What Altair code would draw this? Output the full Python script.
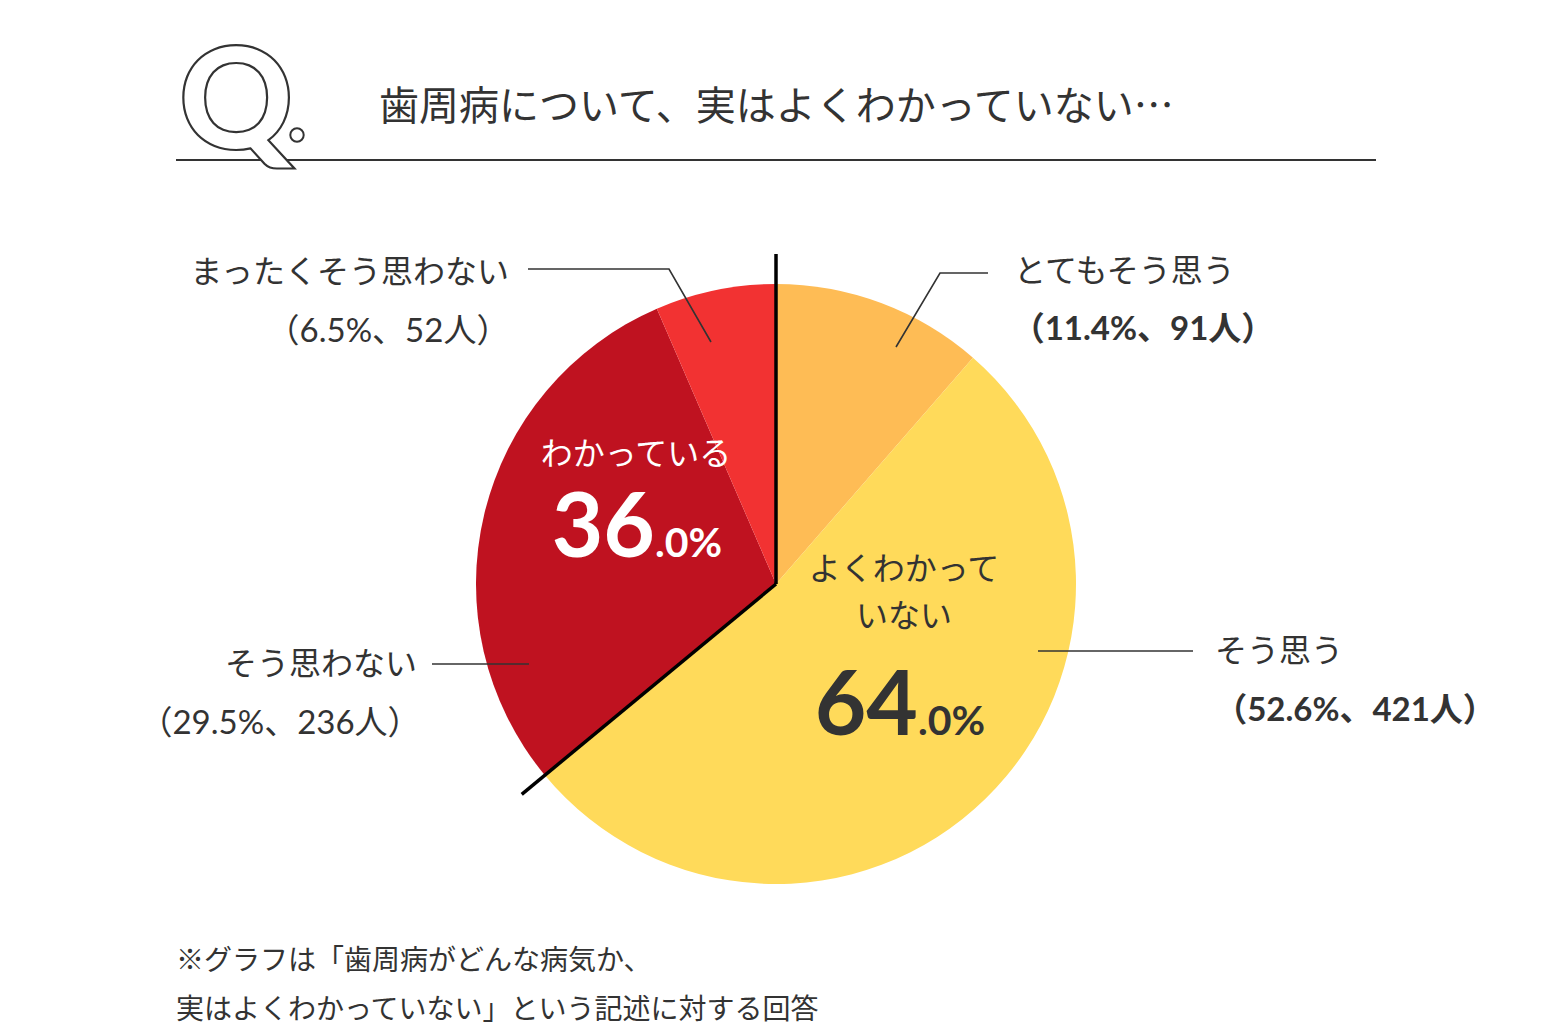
import math
import altair as alt
import pandas as pd

# ---------------- data ----------------
categories = ["とてもそう思う", "そう思う", "そう思わない", "まったくそう思わない"]
percents = [11.4, 52.6, 29.5, 6.5]
counts = [91, 421, 236, 52]
groups = ["よくわかっていない", "よくわかっていない", "わかっている", "わかっている"]
colors = ["#FEBC55", "#FFDA5A", "#BF1220", "#F23232"]
title_text = "歯周病について、実はよくわかっていない…"
note_lines = ["※グラフは「歯周病がどんな病気か、", "実はよくわかっていない」という記述に対する回答"]

# ---------------- layout (pixels in view) ----------------
CX, CY, R, RLINE = 768, 576, 300, 330
JP = "Noto Sans CJK JP"
NUM = "Lato, 'Noto Sans CJK JP'"
DARK = "#333333"

name_pos = {  # x, y, align
    "とてもそう思う": (1006, 264, "left"),
    "そう思う": (1207, 644, "left"),
    "そう思わない": (409, 657, "right"),
    "まったくそう思わない": (501, 265, "right"),
}
sub_pos = {  # x, y, bold
    "とてもそう思う": (1135, 322, True),
    "そう思う": (1347, 703, True),
    "そう思わない": (272, 716, False),
    "まったくそう思わない": (380, 324, False),
}
leader_pts = {
    "とてもそう思う": [(980, 265), (932, 265), (888, 339)],
    "そう思う": [(1030, 643), (1185, 643)],
    "そう思わない": [(424, 656), (521, 656)],
    "まったくそう思わない": [(520, 261), (661, 261), (703, 334)],
}

W, H = 1536, 1018

pie_df = pd.DataFrame({
    "cat": categories, "value": percents, "order": list(range(len(categories))),
})

pie = alt.Chart(pie_df).mark_arc(outerRadius=R).encode(
    theta=alt.Theta("value:Q", stack=True),
    order=alt.Order("order:Q"),
    color=alt.Color("cat:N", scale=alt.Scale(domain=categories, range=colors), legend=None),
    x=alt.value(CX), y=alt.value(CY),
)

# separator lines at group boundaries
total = sum(percents)
bounds = [0.0]
acc = 0.0
for i in range(len(categories) - 1):
    acc += percents[i]
    if groups[i] != groups[i + 1]:
        bounds.append(acc / total)
sep_df = pd.DataFrame({
    "x": [CX] * len(bounds), "y": [CY] * len(bounds),
    "x2": [CX + RLINE * math.sin(2 * math.pi * b) for b in bounds],
    "y2": [CY - RLINE * math.cos(2 * math.pi * b) for b in bounds],
})
sep = alt.Chart(sep_df).mark_rule(color="#000000", strokeWidth=3.5).encode(
    x=alt.X("x:Q", scale=None), y=alt.Y("y:Q", scale=None),
    x2="x2:Q", y2="y2:Q",
)

# leader lines
lrows = []
for c in categories:
    for k, (px, py) in enumerate(leader_pts[c]):
        lrows.append({"cat": c, "k": k, "x": px, "y": py})
leader = alt.Chart(pd.DataFrame(lrows)).mark_line(color=DARK, strokeWidth=1.6).encode(
    x=alt.X("x:Q", scale=None), y=alt.Y("y:Q", scale=None),
    detail="cat:N", order="k:Q",
)

# category names
nrows = [{"t": c, "x": name_pos[c][0], "y": name_pos[c][1], "a": name_pos[c][2]} for c in categories]
ndf = pd.DataFrame(nrows)
names_l = alt.Chart(ndf[ndf.a == "left"]).mark_text(
    font=JP, fontSize=32, color=DARK, align="left", baseline="middle", fontWeight=400
).encode(x=alt.X("x:Q", scale=None), y=alt.Y("y:Q", scale=None), text="t:N")
names_r = alt.Chart(ndf[ndf.a == "right"]).mark_text(
    font=JP, fontSize=32, color=DARK, align="right", baseline="middle", fontWeight=400
).encode(x=alt.X("x:Q", scale=None), y=alt.Y("y:Q", scale=None), text="t:N")

# sub labels
srows = []
for c, p, n in zip(categories, percents, counts):
    x, y, b = sub_pos[c]
    srows.append({"t": f"（{p}%、{n}人）", "x": x, "y": y, "b": b})
sdf = pd.DataFrame(srows)
subs_b = alt.Chart(sdf[sdf.b]).mark_text(
    font=NUM, fontSize=33, color=DARK, align="center", baseline="middle", fontWeight="bold"
).encode(x=alt.X("x:Q", scale=None), y=alt.Y("y:Q", scale=None), text="t:N")
subs_n = alt.Chart(sdf[~sdf.b]).mark_text(
    font=NUM, fontSize=33, color=DARK, align="center", baseline="middle", fontWeight=400
).encode(x=alt.X("x:Q", scale=None), y=alt.Y("y:Q", scale=None), text="t:N")

# group totals
g_known = sum(p for p, g in zip(percents, groups) if g == "わかっている")
g_unknown = sum(p for p, g in zip(percents, groups) if g == "よくわかっていない")


def big_number(val, x, y, color):
    whole = f"{val:.1f}".split(".")[0]
    frac = "." + f"{val:.1f}".split(".")[1] + "%"
    d = pd.DataFrame({"w": [whole], "f": [frac], "x": [x], "y": [y]})
    a = alt.Chart(d).mark_text(font="Lato", fontSize=89, fontWeight="bold", color=color,
                               align="right", baseline="alphabetic").encode(
        x=alt.X("x:Q", scale=None), y=alt.Y("y:Q", scale=None), text="w:N")
    b = alt.Chart(d).mark_text(font="Lato", fontSize=41, fontWeight="bold", color=color,
                               align="left", baseline="alphabetic").encode(
        x=alt.X("x:Q", scale=None), y=alt.Y("y:Q", scale=None), text="f:N")
    return a + b


known_lbl = alt.Chart(pd.DataFrame({"t": ["わかっている"], "x": [628], "y": [447]})).mark_text(
    font=JP, fontSize=32, color="#FFFFFF", align="center", baseline="middle", fontWeight=400
).encode(x=alt.X("x:Q", scale=None), y=alt.Y("y:Q", scale=None), text="t:N")
unk_lbl = alt.Chart(pd.DataFrame({"t": ["よくわかって", "いない"], "x": [896, 896], "y": [562, 609]})).mark_text(
    font=JP, fontSize=32, color=DARK, align="center", baseline="middle", fontWeight=400
).encode(x=alt.X("x:Q", scale=None), y=alt.Y("y:Q", scale=None), text="t:N")

known_num = big_number(g_known, 647, 549, "#FFFFFF")
unk_num = big_number(g_unknown, 910, 727, DARK)

# header
hline = alt.Chart(pd.DataFrame({"x": [168], "x2": [1368], "y": [152]})).mark_rule(
    color=DARK, strokeWidth=2).encode(
    x=alt.X("x:Q", scale=None), x2="x2:Q", y=alt.Y("y:Q", scale=None))
qmark = alt.Chart(pd.DataFrame({"t": ["Q"], "x": [228], "y": [141]})).mark_text(
    font="Lato", fontSize=142, fontWeight=900, fill="#FFFFFF", stroke=DARK, strokeWidth=2.2,
    align="center", baseline="alphabetic").encode(
    x=alt.X("x:Q", scale=None), y=alt.Y("y:Q", scale=None), text="t:N")
qdot = alt.Chart(pd.DataFrame({"x": [289], "y": [127]})).mark_point(
    shape="circle", size=180, filled=False, stroke=DARK, strokeWidth=2, opacity=1).encode(
    x=alt.X("x:Q", scale=None), y=alt.Y("y:Q", scale=None))
title = alt.Chart(pd.DataFrame({"t": [title_text], "x": [371], "y": [100]})).mark_text(
    font=JP, fontSize=40, color=DARK, align="left", baseline="middle", fontWeight=400
).encode(x=alt.X("x:Q", scale=None), y=alt.Y("y:Q", scale=None), text="t:N")

note = alt.Chart(pd.DataFrame({"t": note_lines, "x": [168, 168], "y": [954, 1003]})).mark_text(
    font=JP, fontSize=28, color=DARK, align="left", baseline="middle", fontWeight=400
).encode(x=alt.X("x:Q", scale=None), y=alt.Y("y:Q", scale=None), text="t:N")

chart = alt.layer(
    pie, sep, leader, names_l, names_r, subs_b, subs_n,
    known_lbl, unk_lbl, known_num, unk_num,
    hline, qmark, qdot, title, note,
).properties(
    width=W, height=H, padding=0, autosize=alt.AutoSizeParams(type="none"),
    background="#FFFFFF",
).configure_view(stroke=None)

chart.save("out.html", embed_options={"renderer": "svg", "actions": False})
